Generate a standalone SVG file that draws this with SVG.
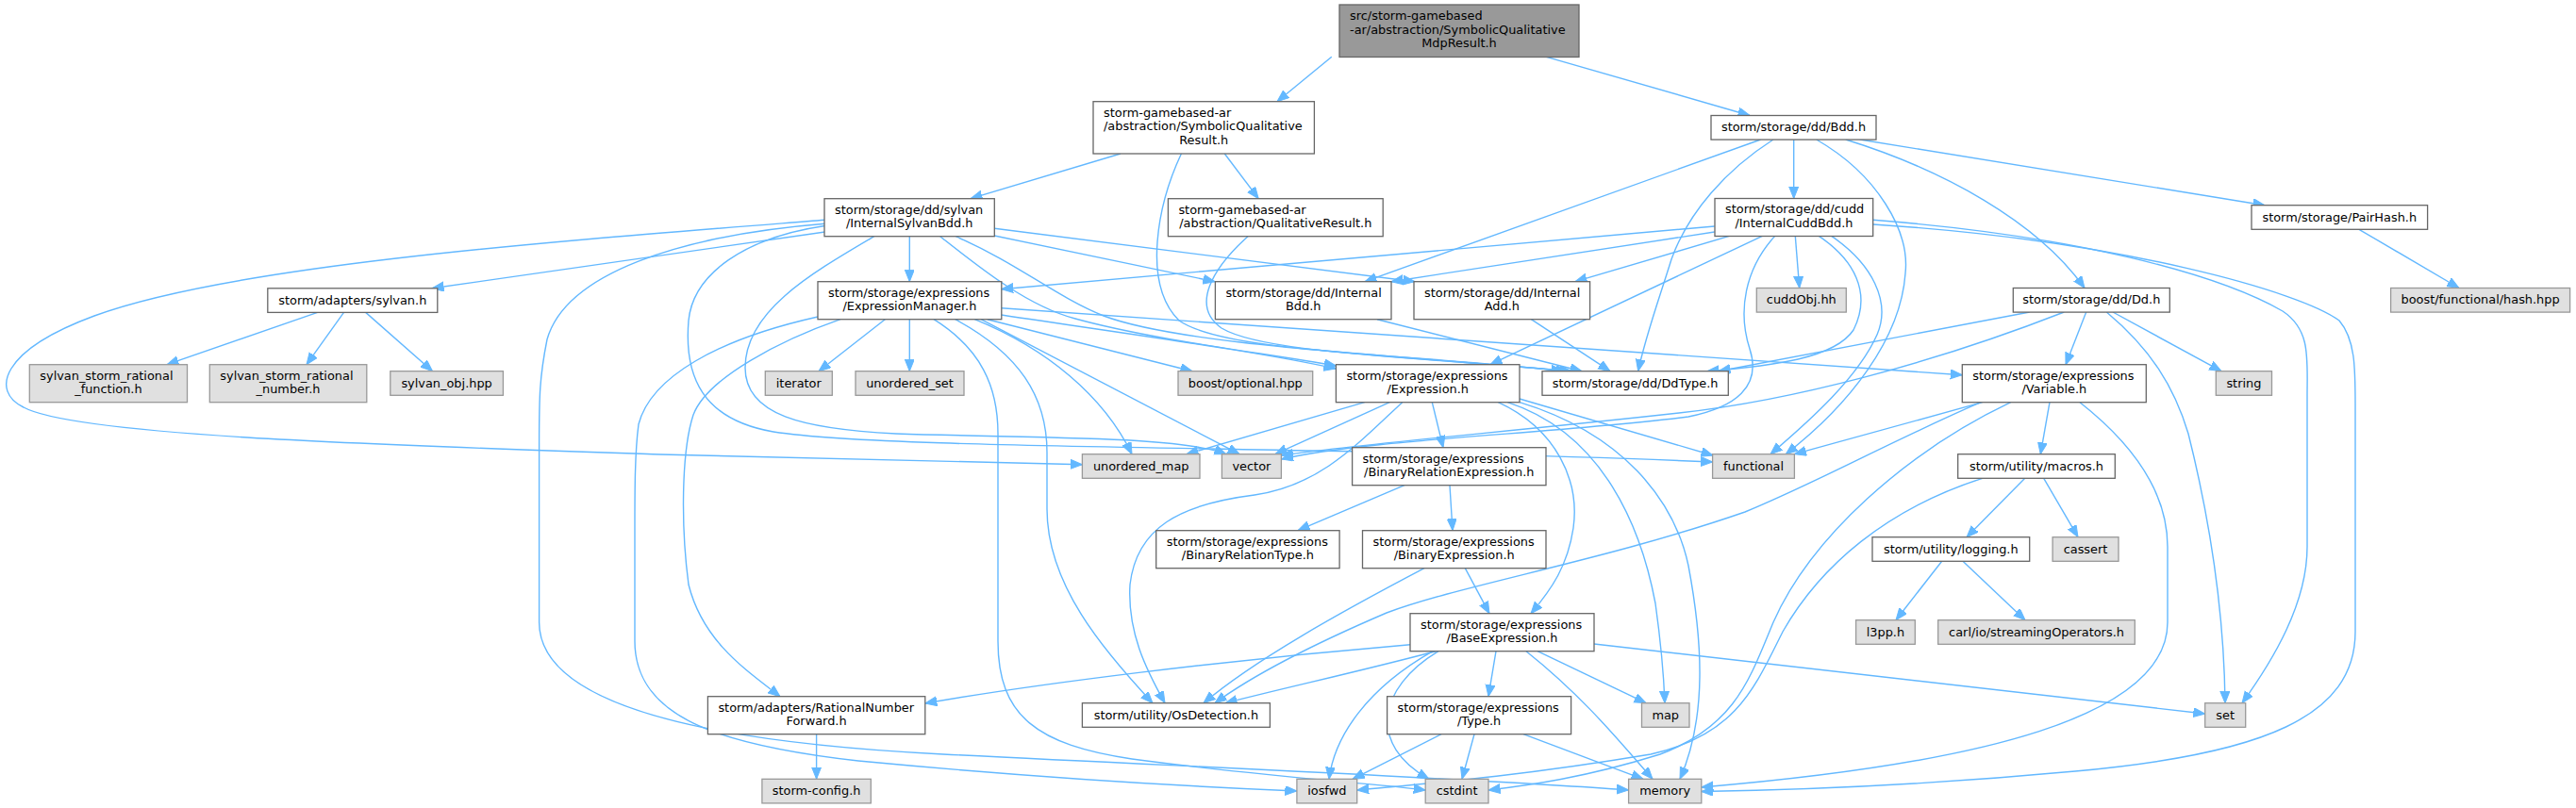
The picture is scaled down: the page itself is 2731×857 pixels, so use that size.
<svg xmlns="http://www.w3.org/2000/svg" width="2731" height="857" viewBox="0 0 2731 857">
<defs>
<marker id="a" markerUnits="userSpaceOnUse" markerWidth="14" markerHeight="12" refX="12.5" refY="5" orient="auto"><path d="M0,0 L12.5,5 L0,10 z" fill="#63b8ff" stroke="#63b8ff" stroke-width="1"/></marker>
</defs>
<style>
.n rect{fill:#ffffff;stroke:#666666;stroke-width:1.3}
.g rect{fill:#e0e0e0;stroke:#999999;stroke-width:1.3}
.m rect{fill:#999999;stroke:#666666;stroke-width:1.3}
text{font-family:'DejaVu Sans','Liberation Sans',sans-serif;font-size:12.9px;fill:#000000}
.c{text-anchor:middle}
.e path{fill:none;stroke:#63b8ff;stroke-width:1.4;marker-end:url(#a)}
</style>
<rect width="2731" height="857" fill="#ffffff"/>
<g id="edges" class="e">
<path d="M1411.8,60.3 L1354,107.7"/>
<path d="M1639.5,60.3 L1855,122.5"/>
<path d="M1188,163 L1029,210.7"/>
<path d="M1298.3,163 L1334.2,210.7"/>
<path d="M1252.4,163 C1228,215 1210,300 1250,340 C1300,375 1500,375 1657,393.7"/>
<path d="M1323,250.7 C1285,285 1262,325 1295,348 C1340,375 1500,378 1662,393.7"/>
<path d="M1866.7,148 L1447,298.7"/>
<path d="M1880,148 C1830,180 1790,225 1772,275 C1758,320 1745,355 1736.7,393.7"/>
<path d="M1901.7,148 L1901.7,210.5"/>
<path d="M1956.7,148 C2060,180 2160,235 2210,305.5"/>
<path d="M1971.7,148 L2401,217.7"/>
<path d="M1925.7,148 C1990,185 2025,245 2020,290 C2015,360 1960,430 1893.3,481.7"/>
<path d="M2501,243.3 L2607,305.5"/>
<path d="M874.6,246 L458,305.8"/>
<path d="M874.6,233.3 C600,255 250,280 100,335 C0,372 -10,415 25,432 C80,462 400,472 700,482 C900,488 1050,490 1147.4,492.7"/>
<path d="M874.6,237.3 C720,250 600,290 580,360 C572,400 571.6,420 571.6,470 L571.6,660 C571.6,760 800,790 1000,800 C1300,815 1550,825 1726.6,838"/>
<path d="M874.6,239.5 C790,252 735,290 730,340 C725,400 745,445 820,458 C950,478 1400,472 1815.6,490"/>
<path d="M926.7,250.7 C860,290 790,330 790,390 C790,440 850,455 950,460 C1100,465 1250,462 1300,481.7"/>
<path d="M964.3,250.7 L964.3,298.7"/>
<path d="M1054.3,250 L1288,298.7"/>
<path d="M1054.3,242.3 L1500,298.7"/>
<path d="M1013.3,250.7 C1080,280 1120,315 1170,335 C1250,365 1450,375 1666,393.7"/>
<path d="M996.7,250.7 C1040,285 1090,325 1140,338 C1220,360 1330,373 1416.4,388"/>
<path d="M938.3,338.7 L868,393.7"/>
<path d="M964.3,338.7 L964.3,393.7"/>
<path d="M990,338.7 C1040,370 1058,410 1058,460 L1058,680 C1058,760 1100,790 1200,805 C1350,825 1450,830 1511.2,838"/>
<path d="M1012.7,338.7 C1080,375 1110,420 1110,480 L1110,540 C1110,620 1170,690 1222,745.7"/>
<path d="M1033.3,338.7 C1110,370 1170,420 1200,481.7"/>
<path d="M1040,338.7 L1314,481.7"/>
<path d="M1046.7,338.7 L1264,393.7"/>
<path d="M1061.7,326.7 L2080.3,397.7"/>
<path d="M1061.7,334 C1200,355 1330,372 1416.4,391"/>
<path d="M891,338.7 C830,360 750,400 735,440 C722,480 722,560 730,620 C745,680 790,710 827,738.7"/>
<path d="M867,336 C760,360 690,400 677,450 C673,480 673,520 673,560 L673,680 C673,760 760,790 910,807 C1100,825 1280,835 1374.9,839"/>
<path d="M1817.7,240 L1061.7,306.7"/>
<path d="M1817.7,246 L1475,298.7"/>
<path d="M1833.3,250.4 L1670,298.7"/>
<path d="M1868.3,250.4 L1580,386.7"/>
<path d="M1903.3,250.4 L1907.7,305.5"/>
<path d="M1928.3,250.4 C1965,275 1985,310 1965,350 C1945,380 1880,388 1810,393.7"/>
<path d="M1941.7,250.4 C1985,280 2005,320 1990,355 C1970,400 1920,445 1877,481.7"/>
<path d="M1881.7,250.4 C1850,285 1842,330 1855,370 C1868,410 1840,432 1790,442 C1650,460 1450,466 1358.5,487"/>
<path d="M1985.7,233.3 C2200,250 2350,290 2420,330 C2450,350 2446,380 2446,420 L2446,580 C2446,640 2410,700 2377,745.7"/>
<path d="M1985.7,238 C2250,255 2440,310 2480,340 C2497,360 2497,390 2497,430 L2497,670 C2497,760 2400,800 2200,818 C2050,832 1900,838 1803.8,839.5"/>
<path d="M2151.7,331 L1822,393.7"/>
<path d="M2188.3,331 C2050,385 1900,425 1780,438 C1600,458 1450,470 1358.5,483"/>
<path d="M2211.7,331 L2190,386.7"/>
<path d="M2240,331 L2355,393.7"/>
<path d="M2233.3,331 C2280,370 2305,410 2320,460 C2345,560 2358,660 2359,745.7"/>
<path d="M1446.7,426.7 L1258,481.7"/>
<path d="M1473.3,426.7 L1352,481.7"/>
<path d="M1486.7,426.7 C1440,470 1400,515 1330,525 C1250,535 1205,560 1198,620 C1195,670 1215,710 1235,745.7"/>
<path d="M1518.3,426.7 L1530,474.7"/>
<path d="M1588.3,426.7 C1650,455 1675,510 1668,560 C1662,600 1645,625 1623,650.7"/>
<path d="M1598.3,426.7 C1700,460 1740,560 1755,640 C1762,690 1764,720 1765,745.7"/>
<path d="M1611,426.7 C1720,460 1775,530 1790,600 C1805,680 1810,760 1781,826.3"/>
<path d="M1611,423 L1816,483"/>
<path d="M2101.7,426.7 L1902.4,481.7"/>
<path d="M2100,426.7 C2000,470 1930,510 1850,543 C1700,595 1550,620 1470,650 C1400,680 1330,715 1288,745.7"/>
<path d="M2131.7,426.7 C2020,480 1920,570 1880,660 C1855,720 1840,770 1760,800 C1680,825 1620,833 1578,838"/>
<path d="M2173,426.7 L2163.3,481.7"/>
<path d="M2205,426.7 C2260,470 2298,520 2298,580 L2298,660 C2298,760 2100,810 1803.8,835"/>
<path d="M2146.7,507.3 L2085,569.7"/>
<path d="M2166.7,507.3 L2203,569.7"/>
<path d="M2101.7,507.3 C2000,540 1930,600 1890,670 C1860,730 1840,780 1750,800 C1600,825 1500,832 1438.7,838"/>
<path d="M2058.7,595.3 L2010,657.7"/>
<path d="M2081,595.3 L2147,657.7"/>
<path d="M1489,514.7 L1376,562.7"/>
<path d="M1537,514.7 L1540,562.7"/>
<path d="M1510,602.7 C1420,650 1330,700 1276,745.7"/>
<path d="M1553.3,602.7 L1579,650.7"/>
<path d="M1495,683.7 C1300,700 1100,725 980.8,746"/>
<path d="M1522,690.7 C1450,710 1360,730 1299,745.7"/>
<path d="M1519,690.7 C1450,730 1415,780 1409,826.3"/>
<path d="M1525,690.7 C1460,730 1450,790 1515,826.3"/>
<path d="M1586,690.7 L1578,738.7"/>
<path d="M1618,690.7 C1680,740 1720,790 1752,826.3"/>
<path d="M1630,690.7 L1745,745.7"/>
<path d="M1690,683 L2337.7,757"/>
<path d="M1528,778.7 L1434,826.3"/>
<path d="M1563,778.7 L1550,826.3"/>
<path d="M1615,778.7 L1742,826.3"/>
<path d="M865.6,778.7 L865.6,826.3"/>
<path d="M336.6,331.4 L177,386.7"/>
<path d="M364.5,331.4 L325,386.7"/>
<path d="M387.7,331.4 L458.5,393.7"/>
<path d="M1460,338.7 L1677,393.7"/>
<path d="M1623.3,338.7 L1707,393.7"/>
</g>
<g id="n_top" class="m"><rect x="1420" y="5" width="254" height="55.5"/><text x="1431" y="21">src/storm-gamebased</text><text x="1431" y="35.7">-ar/abstraction/SymbolicQualitative</text><text class="c" x="1547" y="50.4">MdpResult.h</text></g>
<g id="n_sqr" class="n"><rect x="1159" y="107.7" width="234.4" height="55.3"/><text x="1170" y="123.6">storm-gamebased-ar</text><text x="1170" y="138.3">/abstraction/SymbolicQualitative</text><text class="c" x="1276.2" y="153">Result.h</text></g>
<g id="n_bdd" class="n"><rect x="1814" y="122.5" width="175" height="25.6"/><text class="c" x="1901.5" y="139.3">storm/storage/dd/Bdd.h</text></g>
<g id="n_isb" class="n"><rect x="874" y="210.7" width="180.3" height="40"/><text x="885" y="226.5">storm/storage/dd/sylvan</text><text class="c" x="964.2" y="241.2">/InternalSylvanBdd.h</text></g>
<g id="n_qr" class="n"><rect x="1238.4" y="210.7" width="227.8" height="40"/><text x="1249.4" y="226.5">storm-gamebased-ar</text><text class="c" x="1352.3" y="241.2">/abstraction/QualitativeResult.h</text></g>
<g id="n_icb" class="n"><rect x="1818" y="210.5" width="167.7" height="40"/><text x="1829" y="226.3">storm/storage/dd/cudd</text><text class="c" x="1901.9" y="241">/InternalCuddBdd.h</text></g>
<g id="n_pairhash" class="n"><rect x="2387" y="217.7" width="186.6" height="25.6"/><text class="c" x="2480.3" y="234.5">storm/storage/PairHash.h</text></g>
<g id="n_sylvanh" class="n"><rect x="283.8" y="305.8" width="180" height="25.6"/><text class="c" x="373.8" y="322.6">storm/adapters/sylvan.h</text></g>
<g id="n_em" class="n"><rect x="867" y="298.7" width="194.8" height="40"/><text x="878" y="314.5">storm/storage/expressions</text><text class="c" x="964.4" y="329.2">/ExpressionManager.h</text></g>
<g id="n_ibdd" class="n"><rect x="1288.4" y="298.7" width="186.6" height="40"/><text x="1299.4" y="314.5">storm/storage/dd/Internal</text><text class="c" x="1381.7" y="329.2">Bdd.h</text></g>
<g id="n_iadd" class="n"><rect x="1499" y="298.7" width="186.6" height="40"/><text x="1510" y="314.5">storm/storage/dd/Internal</text><text class="c" x="1592.3" y="329.2">Add.h</text></g>
<g id="n_cuddobj" class="g"><rect x="1862.3" y="305.5" width="95" height="25.6"/><text class="c" x="1909.8" y="322.3">cuddObj.hh</text></g>
<g id="n_dd" class="n"><rect x="2134.3" y="305.5" width="166" height="25.6"/><text class="c" x="2217.3" y="322.3">storm/storage/dd/Dd.h</text></g>
<g id="n_hash" class="g"><rect x="2534.6" y="305.5" width="190" height="25.6"/><text class="c" x="2629.6" y="322.3">boost/functional/hash.hpp</text></g>
<g id="n_srf" class="g"><rect x="31.3" y="386.7" width="167.2" height="40"/><text x="42.3" y="402.5">sylvan_storm_rational</text><text class="c" x="114.9" y="417.2">_function.h</text></g>
<g id="n_srn" class="g"><rect x="222.3" y="386.7" width="166.5" height="40"/><text x="233.3" y="402.5">sylvan_storm_rational</text><text class="c" x="305.5" y="417.2">_number.h</text></g>
<g id="n_sobj" class="g"><rect x="413.8" y="393.7" width="119.6" height="25.6"/><text class="c" x="473.6" y="410.5">sylvan_obj.hpp</text></g>
<g id="n_iterator" class="g"><rect x="811.3" y="393.7" width="71" height="25.6"/><text class="c" x="846.8" y="410.5">iterator</text></g>
<g id="n_uset" class="g"><rect x="907" y="393.7" width="115" height="25.6"/><text class="c" x="964.5" y="410.5">unordered_set</text></g>
<g id="n_bopt" class="g"><rect x="1249" y="393.7" width="142.7" height="25.6"/><text class="c" x="1320.3" y="410.5">boost/optional.hpp</text></g>
<g id="n_expr" class="n"><rect x="1416.4" y="386.7" width="194.6" height="40"/><text x="1427.4" y="402.5">storm/storage/expressions</text><text class="c" x="1513.7" y="417.2">/Expression.h</text></g>
<g id="n_ddtype" class="n"><rect x="1635" y="393.7" width="197.3" height="25.6"/><text class="c" x="1733.6" y="410.5">storm/storage/dd/DdType.h</text></g>
<g id="n_var" class="n"><rect x="2080.3" y="386.7" width="195" height="40"/><text x="2091.3" y="402.5">storm/storage/expressions</text><text class="c" x="2177.8" y="417.2">/Variable.h</text></g>
<g id="n_string" class="g"><rect x="2349.3" y="393.7" width="59.2" height="25.6"/><text class="c" x="2378.9" y="410.5">string</text></g>
<g id="n_umap" class="g"><rect x="1147.4" y="481.7" width="124.6" height="25.6"/><text class="c" x="1209.7" y="498.5">unordered_map</text></g>
<g id="n_vector" class="g"><rect x="1295.4" y="481.7" width="63" height="25.6"/><text class="c" x="1326.9" y="498.5">vector</text></g>
<g id="n_bre" class="n"><rect x="1433.6" y="474.7" width="205.4" height="40"/><text x="1444.6" y="490.5">storm/storage/expressions</text><text class="c" x="1536.3" y="505.2">/BinaryRelationExpression.h</text></g>
<g id="n_functional" class="g"><rect x="1815.6" y="481.7" width="86.8" height="25.6"/><text class="c" x="1859" y="498.5">functional</text></g>
<g id="n_macros" class="n"><rect x="2075.7" y="481.7" width="166.6" height="25.6"/><text class="c" x="2159" y="498.5">storm/utility/macros.h</text></g>
<g id="n_brt" class="n"><rect x="1225.7" y="562.7" width="194.4" height="40"/><text x="1236.7" y="578.5">storm/storage/expressions</text><text class="c" x="1322.9" y="593.2">/BinaryRelationType.h</text></g>
<g id="n_be" class="n"><rect x="1444.5" y="562.7" width="194.5" height="40"/><text x="1455.5" y="578.5">storm/storage/expressions</text><text class="c" x="1541.7" y="593.2">/BinaryExpression.h</text></g>
<g id="n_logging" class="n"><rect x="1985" y="569.7" width="166.7" height="25.6"/><text class="c" x="2068.3" y="586.5">storm/utility/logging.h</text></g>
<g id="n_cassert" class="g"><rect x="2176.1" y="569.7" width="69.9" height="25.6"/><text class="c" x="2211" y="586.5">cassert</text></g>
<g id="n_base" class="n"><rect x="1495" y="650.7" width="195" height="40"/><text x="1506" y="666.5">storm/storage/expressions</text><text class="c" x="1592.5" y="681.2">/BaseExpression.h</text></g>
<g id="n_l3pp" class="g"><rect x="1967.6" y="657.7" width="62.7" height="25.6"/><text class="c" x="1998.9" y="674.5">l3pp.h</text></g>
<g id="n_carl" class="g"><rect x="2054.7" y="657.7" width="208.6" height="25.6"/><text class="c" x="2159" y="674.5">carl/io/streamingOperators.h</text></g>
<g id="n_rnf" class="n"><rect x="750.4" y="738.7" width="230.4" height="40"/><text x="761.4" y="754.5">storm/adapters/RationalNumber</text><text class="c" x="865.6" y="769.2">Forward.h</text></g>
<g id="n_os" class="n"><rect x="1147.4" y="745.7" width="199" height="25.6"/><text class="c" x="1246.9" y="762.5">storm/utility/OsDetection.h</text></g>
<g id="n_type" class="n"><rect x="1470.6" y="738.7" width="195" height="40"/><text x="1481.6" y="754.5">storm/storage/expressions</text><text class="c" x="1568.1" y="769.2">/Type.h</text></g>
<g id="n_map" class="g"><rect x="1740.5" y="745.7" width="50.5" height="25.6"/><text class="c" x="1765.7" y="762.5">map</text></g>
<g id="n_set" class="g"><rect x="2337.7" y="745.7" width="43" height="25.6"/><text class="c" x="2359.2" y="762.5">set</text></g>
<g id="n_config" class="g"><rect x="807.9" y="826.3" width="115.4" height="25.6"/><text class="c" x="865.6" y="843.1">storm-config.h</text></g>
<g id="n_iosfwd" class="g"><rect x="1374.9" y="826.3" width="63.8" height="25.6"/><text class="c" x="1406.8" y="843.1">iosfwd</text></g>
<g id="n_cstdint" class="g"><rect x="1511.2" y="826.3" width="66.8" height="25.6"/><text class="c" x="1544.6" y="843.1">cstdint</text></g>
<g id="n_memory" class="g"><rect x="1726.6" y="826.3" width="77.2" height="25.6"/><text class="c" x="1765.2" y="843.1">memory</text></g>
</svg>
